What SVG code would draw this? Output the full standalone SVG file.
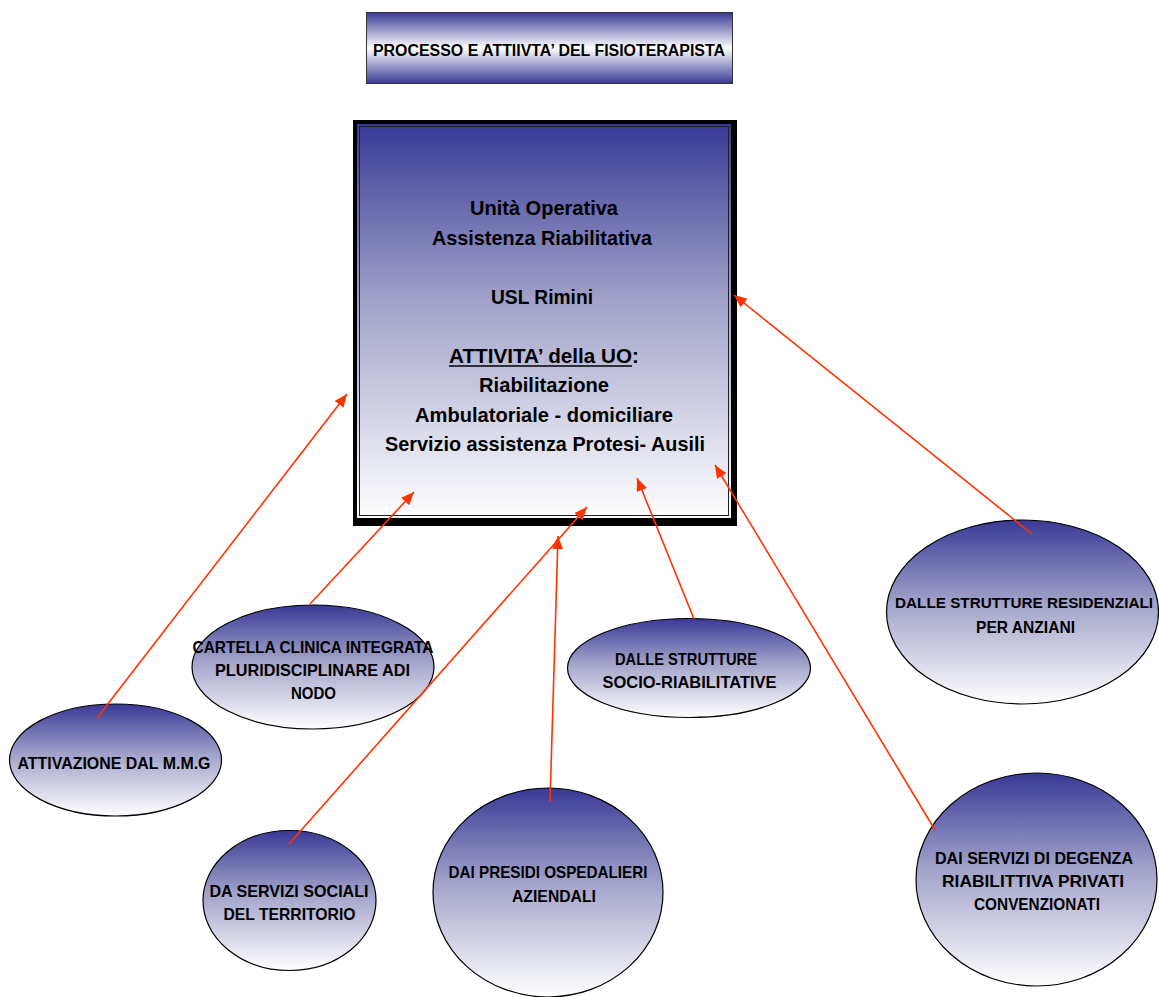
<svg xmlns="http://www.w3.org/2000/svg" width="1159" height="997" viewBox="0 0 1159 997">
<defs>
<linearGradient id="gv" x1="0" y1="0" x2="0" y2="1">
<stop offset="0" stop-color="#393996"/>
<stop offset="0.45" stop-color="#a2a2ca"/>
<stop offset="1" stop-color="#ffffff"/>
</linearGradient>
<linearGradient id="gt" x1="0" y1="0" x2="0" y2="1">
<stop offset="0" stop-color="#393996"/>
<stop offset="0.5" stop-color="#ffffff"/>
<stop offset="1" stop-color="#393996"/>
</linearGradient>
<marker id="ah" markerUnits="userSpaceOnUse" markerWidth="14" markerHeight="12" refX="13" refY="5.5" orient="auto">
<path d="M0,0 L13,5.5 L0,11 z" fill="#ff3300"/>
</marker>
</defs>
<style>
text{font-family:"Liberation Sans",Arial,sans-serif;font-weight:bold;fill:#000;text-anchor:middle}
.t{font-size:16px}
.c{font-size:21px}
.e{font-size:16.5px}
.node ellipse{fill:url(#gv);stroke:#000;stroke-width:1.2}
.conn line{stroke:#ff3300;stroke-width:1.6;marker-end:url(#ah)}
</style>
<rect width="1159" height="997" fill="#fff"/>

<g id="title">
<rect x="366.5" y="12.5" width="366" height="71" fill="url(#gt)" stroke="#333" stroke-width="1"/>
<text class="t" x="549" y="56" textLength="352" lengthAdjust="spacingAndGlyphs">PROCESSO E ATTIIVTA’ DEL FISIOTERAPISTA</text>
</g>

<g id="uo">
<rect x="353" y="120" width="384" height="406" fill="#000"/>
<rect x="357" y="124" width="374" height="394" fill="url(#gv)"/>
<rect x="359.5" y="126.5" width="369" height="389" fill="none" stroke="#222" stroke-width="1"/>
<text class="c" x="544" y="215" textLength="148" lengthAdjust="spacingAndGlyphs">Unità Operativa</text>
<text class="c" x="542" y="244.5" textLength="220" lengthAdjust="spacingAndGlyphs">Assistenza Riabilitativa</text>
<text class="c" x="542" y="303.5" textLength="102" lengthAdjust="spacingAndGlyphs">USL Rimini</text>
<text class="c" x="544" y="362.5" textLength="190" lengthAdjust="spacingAndGlyphs">ATTIVITA’ della UO:</text>
<line x1="449" y1="366" x2="632" y2="366" stroke="#000" stroke-width="1.5"/>
<text class="c" x="544" y="392" textLength="130" lengthAdjust="spacingAndGlyphs">Riabilitazione</text>
<text class="c" x="544" y="421.5" textLength="258" lengthAdjust="spacingAndGlyphs">Ambulatoriale - domiciliare</text>
<text class="c" x="545" y="451" textLength="320" lengthAdjust="spacingAndGlyphs">Servizio assistenza Protesi- Ausili</text>
</g>

<g id="mmg" class="node">
<ellipse cx="115.5" cy="760" rx="106" ry="56"/>
<text class="e" x="114" y="769" textLength="193" lengthAdjust="spacingAndGlyphs">ATTIVAZIONE DAL M.M.G</text>
</g>

<g id="cartella" class="node">
<ellipse cx="313" cy="667" rx="121" ry="62"/>
<text class="e" x="313" y="653" textLength="241" lengthAdjust="spacingAndGlyphs">CARTELLA CLINICA INTEGRATA</text>
<text class="e" x="312.5" y="676" textLength="195" lengthAdjust="spacingAndGlyphs">PLURIDISCIPLINARE ADI</text>
<text class="e" x="313.5" y="699" textLength="45" lengthAdjust="spacingAndGlyphs">NODO</text>
</g>

<g id="socio" class="node">
<ellipse cx="689" cy="668" rx="121.5" ry="49.5"/>
<text class="e" x="686" y="665" textLength="142" lengthAdjust="spacingAndGlyphs">DALLE STRUTTURE</text>
<text class="e" x="689.5" y="687.5" textLength="174" lengthAdjust="spacingAndGlyphs">SOCIO-RIABILITATIVE</text>
</g>

<g id="anziani" class="node">
<ellipse cx="1022.5" cy="612" rx="136" ry="92"/>
<text x="1024" y="608" font-size="14.5" textLength="258" lengthAdjust="spacingAndGlyphs">DALLE STRUTTURE RESIDENZIALI</text>
<text class="e" x="1025.5" y="632.5" textLength="99" lengthAdjust="spacingAndGlyphs">PER ANZIANI</text>
</g>

<g id="sociali" class="node">
<ellipse cx="289.5" cy="900.5" rx="86.5" ry="70"/>
<text class="e" x="289" y="896.5" textLength="159" lengthAdjust="spacingAndGlyphs">DA SERVIZI SOCIALI</text>
<text class="e" x="289.5" y="920" textLength="132" lengthAdjust="spacingAndGlyphs">DEL TERRITORIO</text>
</g>

<g id="presidi" class="node">
<ellipse cx="548" cy="892.5" rx="115" ry="104.5"/>
<text class="e" x="548" y="878" textLength="199" lengthAdjust="spacingAndGlyphs">DAI PRESIDI  OSPEDALIERI</text>
<text class="e" x="554" y="901.5" textLength="84" lengthAdjust="spacingAndGlyphs">AZIENDALI</text>
</g>

<g id="degenza" class="node">
<ellipse cx="1036.5" cy="879.5" rx="120.5" ry="106.5"/>
<text class="e" x="1034" y="864" textLength="198" lengthAdjust="spacingAndGlyphs">DAI SERVIZI DI DEGENZA</text>
<text class="e" x="1033" y="886.5" textLength="182" lengthAdjust="spacingAndGlyphs">RIABILITTIVA PRIVATI</text>
<text class="e" x="1037" y="910" textLength="126" lengthAdjust="spacingAndGlyphs">CONVENZIONATI</text>
</g>

<g id="connectors" class="conn">
<line x1="97" y1="718" x2="347" y2="394"/>
<line x1="310" y1="604" x2="414" y2="492"/>
<line x1="289" y1="844" x2="587" y2="507"/>
<line x1="550" y1="802" x2="558" y2="536"/>
<line x1="694" y1="619" x2="637" y2="478"/>
<line x1="935" y1="830" x2="715" y2="465"/>
<line x1="1032" y1="534" x2="734" y2="295"/>
</g>
</svg>
